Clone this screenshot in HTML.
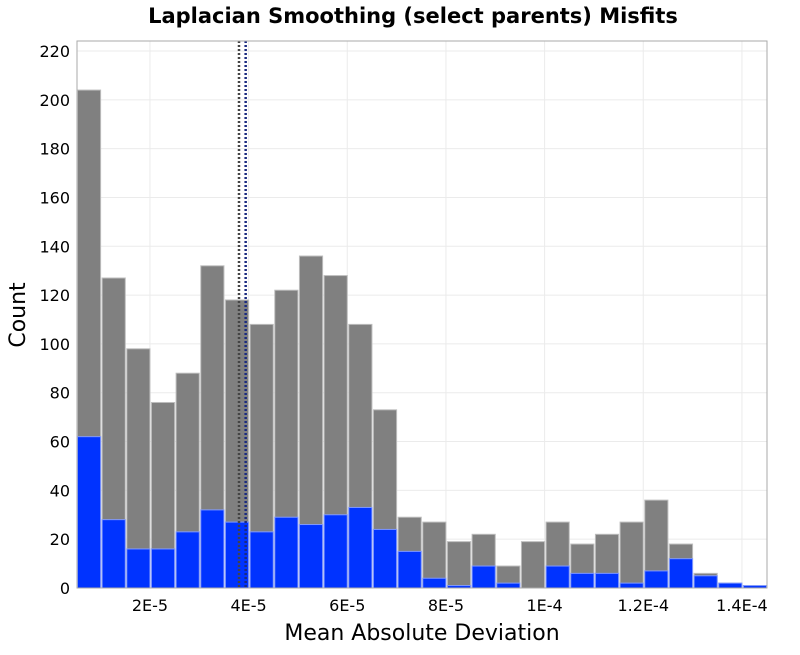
<!DOCTYPE html>
<html><head><meta charset="utf-8"><style>
body{margin:0;background:#fff;}
text{font-family:"DejaVu Sans","Liberation Sans",sans-serif;}
</style></head><body>
<svg id="chart" width="800" height="650" viewBox="0 0 800 650" xmlns="http://www.w3.org/2000/svg">
<text x="413" y="23" text-anchor="middle" font-size="21" font-weight="bold">Laplacian Smoothing (select parents) Misfits</text>
<g id="grid"></g>
<g id="bars"></g>
<g id="lines"></g>
<rect x="77" y="41" width="690" height="547" fill="none" stroke="#aaa" stroke-width="1"/>
<g id="ticks"></g>
<text transform="translate(25,315) rotate(-90)" text-anchor="middle" font-size="22">Count</text>
<text x="422" y="640" text-anchor="middle" font-size="22">Mean Absolute Deviation</text>
</svg>
<script>
const binStart = 5.2e-6;
const binWidth = 5e-6;
const totalCounts = [204,127,98,76,88,132,118,108,122,136,128,108,73,29,27,19,22,9,19,27,18,22,27,36,18,6,2,1];
const subsetCounts = [62,28,16,16,23,32,27,23,29,26,30,33,24,15,4,1,9,2,0,9,6,6,2,7,12,5,2,1];
const yTicks = [0,20,40,60,80,100,120,140,160,180,200,220];
const xTicks = [2e-5,4e-5,6e-5,8e-5,1e-4,1.2e-4,1.4e-4];
const xTickLabels = ["2E-5","4E-5","6E-5","8E-5","1E-4","1.2E-4","1.4E-4"];
const meanLines = [3.805e-5, 3.94e-5];
const NS="http://www.w3.org/2000/svg";
const L=77,R=767,T=41,B=588;
const x=v=>51.3+v*4.933e6;
const y=v=>B-v*(B-T)/224.1;
function mk(tag,attrs,parent){const e=document.createElementNS(NS,tag);for(const k in attrs)e.setAttribute(k,attrs[k]);document.getElementById(parent).appendChild(e);return e;}
yTicks.forEach((t,i)=>{
  const g=mk('line',{x1:L,x2:R,y1:y(t),y2:y(t),stroke:'#ebebeb'},'grid');
  
  
  const tx=mk('text',{x:70,y:y(t)+6,'text-anchor':'end','font-size':'16'},'ticks');
  tx.textContent=t;
  
  
});
xTicks.forEach((t,i)=>{
  const g=mk('line',{x1:x(t),x2:x(t),y1:T,y2:B,stroke:'#ebebeb'},'grid');
  
  
  const tx=mk('text',{x:x(t),y:611,'text-anchor':'middle','font-size':'16'},'ticks');
  tx.textContent=xTickLabels[i];
  
  
});
totalCounts.forEach((c,i)=>{
  const x0=x(binStart+i*binWidth), x1=x(binStart+(i+1)*binWidth);
  const r=mk('rect',{x:x0+0.5,y:y(c),width:x1-x0-1.5,height:B-y(c),fill:'#808080',stroke:'#bdbdbd','stroke-width':'1'},'bars');
  
  
  const s=subsetCounts[i];
  if(s>0){
    const b=mk('rect',{x:x0+0.5,y:y(s),width:x1-x0-1.5,height:B-y(s),fill:'#0033ff',stroke:'#8099ff','stroke-width':'1'},'bars');
    
    
  }
});
const lc=['#444','#1a2a80'];
meanLines.forEach((m,i)=>{
  const l=mk('line',{x1:x(m),x2:x(m),y1:T,y2:B,stroke:lc[i],'stroke-width':'2.5','stroke-dasharray':'2,2'},'lines');
  
  
});
</script>
</body></html>
